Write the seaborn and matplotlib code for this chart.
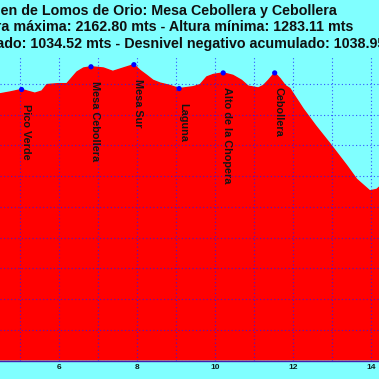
import matplotlib
matplotlib.use("Agg")
import matplotlib.pyplot as plt
import seaborn as sns
import pandas as pd
from matplotlib.ticker import MultipleLocator, FuncFormatter

# ---- data ----
dist_km = [4.40, 4.49, 4.75, 5.04, 5.38, 5.56, 5.69, 5.97, 6.20, 6.46, 6.63,
           6.82, 7.14, 7.38, 7.65, 7.92, 8.08, 8.25, 8.41, 8.59, 8.85, 9.08,
           9.44, 9.62, 9.79, 9.96, 10.21, 10.46, 10.68, 10.85, 10.98, 11.11,
           11.24, 11.37, 11.53, 11.67, 11.80, 11.92, 12.26, 12.58, 12.95,
           13.38, 13.63, 13.97, 14.15, 14.21, 14.30]
elev_m = [2062, 2068, 2074, 2082, 2070, 2077, 2098, 2101, 2101, 2139, 2152,
          2156, 2152, 2141, 2152, 2162.8, 2144, 2128, 2112, 2103, 2095, 2085,
          2091, 2098, 2123, 2131, 2136, 2128, 2112, 2093, 2090, 2087,
          2095, 2112, 2136, 2117, 2095, 2085, 2019, 1964, 1905,
          1834, 1790, 1752, 1757, 1764, 1770]

wp_names = ["Pico Verde", "Mesa Cebollera", "Mesa Sur", "Laguna",
            "Alto de la Chopera", "Cebollera"]
wp_km = [5.04, 6.82, 7.92, 9.08, 10.21, 11.53]
wp_elev = [2082, 2156, 2162.8, 2085, 2136, 2136]

title_lines = [
    "Virgen de Lomos de Orio: Mesa Cebollera y Cebollera",
    "Altura máxima: 2162.80 mts - Altura mínima: 1283.11 mts",
    "Desnivel positivo acumulado: 1034.52 mts - Desnivel negativo acumulado: 1038.95 mts",
]
x_tick_values = [6, 8, 10, 12, 14]

# ---- style ----
BG = "#80FFFF"
RED = "#FF0000"
BLUE = "#1a1aff"

sns.set_theme(style="white")
plt.rcParams["font.family"] = ["Liberation Sans", "DejaVu Sans"]

W = H = 379
fig = plt.figure(figsize=(W / 100, H / 100), dpi=100, facecolor=BG)
ax_bottom_px, ax_top_px = 360.5, 57
ax = fig.add_axes([0, (H - ax_bottom_px) / H, 1, (ax_bottom_px - ax_top_px) / H])
ax.set_facecolor(BG)

prof = pd.DataFrame({"km": dist_km, "m": elev_m})
wps = pd.DataFrame({"km": wp_km, "m": wp_elev, "name": wp_names})

ax.fill_between(prof["km"], 1200, prof["m"], color=RED, lw=0, zorder=1)
sns.lineplot(data=prof, x="km", y="m", ax=ax, color=RED, lw=1.0, zorder=1.5,
             estimator=None, sort=False)
sns.scatterplot(data=wps, x="km", y="m", ax=ax, color="#0000ff", s=14,
                edgecolor="none", zorder=4)

for _, r in wps.iterrows():
    ax.annotate(r["name"], xy=(r["km"], r["m"]), xytext=(-0.7, -10.4),
                textcoords="offset points", rotation=270, ha="left", va="top",
                fontsize=7.8, fontweight="bold", color="#151515", zorder=5)

ax.set_xlim(4.487, 14.205)
ax.set_ylim(1200, 2187.8)
ax.xaxis.set_major_locator(MultipleLocator(1))
ax.xaxis.set_major_formatter(
    FuncFormatter(lambda v, p: f"{int(round(v))}" if int(round(v)) in x_tick_values else ""))
ax.yaxis.set_major_locator(MultipleLocator(100))
ax.set_yticklabels([])
ax.tick_params(axis="x", length=0, pad=2.5, labelsize=6, labelcolor="#0d2020")
ax.tick_params(axis="y", length=0)
for lab in ax.get_xticklabels():
    lab.set_fontweight("bold")
ax.set_xlabel("")
ax.set_ylabel("")
ax.set_axisbelow(False)
ax.grid(True, color=BLUE, lw=0.8, ls=(0, (1, 2.2)), alpha=0.75)
for s in ["top", "left", "right"]:
    ax.spines[s].set_visible(False)
ax.spines["bottom"].set_color("#4020b0")
ax.spines["bottom"].set_linewidth(1.0)

# ---- title lines (the reference shows them cut at the figure edges) ----
tkw = dict(fontsize=10.25, fontweight="bold", color="#101010", va="baseline")
fig.text(337 / W, 1 - 15 / H, title_lines[0], ha="right", **tkw)
fig.text(353 / W, 1 - 30.7 / H, title_lines[1], ha="right", **tkw)
# third line: place so that "ado:" begins at the left edge, as in the reference
renderer = fig.canvas.get_renderer()
probe = fig.text(0, 0, "Desnivel positivo acumul", ha="left", **tkw)
pre_w = probe.get_window_extent(renderer=renderer).width
probe.remove()
fig.text((-3.5 - pre_w) / W, 1 - 48.3 / H, title_lines[2], ha="left", **tkw)

fig.savefig("out.png", dpi=100, facecolor=BG)
